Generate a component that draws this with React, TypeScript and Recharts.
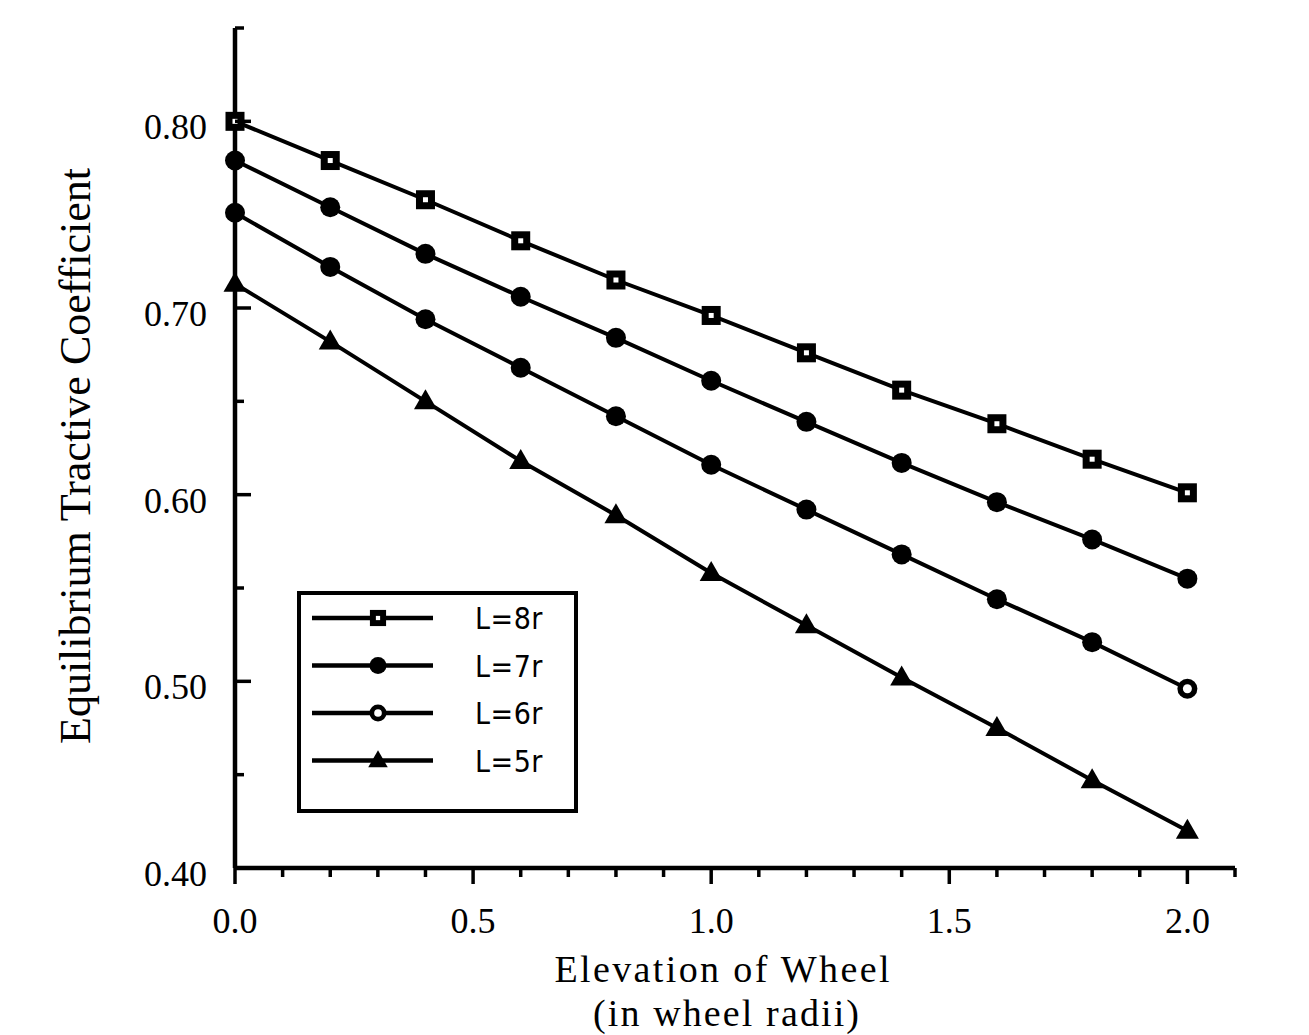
import React from "react";
import { LineChart, Line, XAxis, YAxis, Legend, Label } from "recharts";
import type { JSX } from "react";

// elevation of wheel, in wheel radii
const elevation = [0, 0.2, 0.4, 0.6, 0.8, 1.0, 1.2, 1.4, 1.6, 1.8, 2.0];

// equilibrium tractive coefficient, one list per wheelbase
const l8r = [0.8, 0.779, 0.758, 0.736, 0.715, 0.696, 0.676, 0.656, 0.638, 0.619, 0.601];
const l7r = [0.779, 0.754, 0.729, 0.706, 0.684, 0.661, 0.639, 0.617, 0.596, 0.576, 0.555];
const l6r = [0.751, 0.722, 0.694, 0.668, 0.642, 0.616, 0.592, 0.568, 0.544, 0.521, 0.496];
const l5r = [0.713, 0.682, 0.65, 0.618, 0.589, 0.558, 0.53, 0.502, 0.475, 0.447, 0.42];

const seriesNames = ["L=8r", "L=7r", "L=6r", "L=5r"];

const xTicks = [0, 0.1, 0.2, 0.3, 0.4, 0.5, 0.6, 0.7, 0.8, 0.9, 1.0, 1.1, 1.2, 1.3, 1.4, 1.5, 1.6, 1.7, 1.8, 1.9, 2.0, 2.1];
const xLabels = ["0.0", "0.5", "1.0", "1.5", "2.0"];
const yTicks = [0.4, 0.45, 0.5, 0.55, 0.6, 0.65, 0.7, 0.75, 0.8, 0.85];
const yLabels = ["0.40", "0.50", "0.60", "0.70", "0.80"];

const rows = elevation.map((x, i) => ({
  x,
  l8: l8r[i],
  l7: l7r[i],
  l6: l6r[i],
  l5: l5r[i],
}));

const SERIF = "'Liberation Serif', 'Times New Roman', serif";
const NARROW = "'Liberation Sans Narrow', 'DejaVu Sans Condensed', sans-serif";

type Shape = "square" | "disc" | "ring" | "triangle";

function Marker({ cx, cy, shape, s = 1 }: { cx: number; cy: number; shape: Shape; s?: number }) {
  if (shape === "square") {
    return (
      <g>
        <rect x={cx - 9.5 * s} y={cy - 9.5 * s} width={19 * s} height={19 * s} fill="#000" />
        <rect x={cx - 2.5 * s} y={cy - 2.5 * s} width={5 * s} height={5 * s} fill="#fff" />
      </g>
    );
  }
  if (shape === "triangle") {
    return (
      <path
        d={`M${cx},${cy - 12 * s} L${cx + 11.5 * s},${cy + 8 * s} L${cx - 11.5 * s},${cy + 8 * s} Z`}
        fill="#000"
      />
    );
  }
  return (
    <g>
      <circle cx={cx} cy={cy} r={10 * s} fill="#000" />
      {shape === "ring" && <circle cx={cx} cy={cy} r={4.5 * s} fill="#fff" />}
    </g>
  );
}

const makeDot = (shape: Shape, last?: Shape) => (p: any) => (
  <Marker
    key={p.index}
    cx={p.cx}
    cy={p.cy}
    // the printed L=6r markers read as solid except the final one
    shape={last && p.index === elevation.length - 1 ? last : shape}
  />
);

const legendShapes: Shape[] = ["square", "disc", "ring", "triangle"];

function LegendBox() {
  return (
    <svg width={281} height={222}>
      <rect x={2} y={2} width={277} height={218} fill="#fff" stroke="#000" strokeWidth={4} />
      {seriesNames.map((name, i) => {
        const y = 27 + i * 47.5;
        return (
          <g key={name}>
            <line x1={15} x2={136} y1={y} y2={y} stroke="#000" strokeWidth={4.5} />
            <Marker cx={81} cy={y} shape={legendShapes[i]} s={0.85} />
            <text
              x={178}
              y={y + 11}
              fontFamily={NARROW}
              fontSize={30}
              fontWeight={500}
              letterSpacing={0.5}
              fill="#000"
            >
              {name}
            </text>
          </g>
        );
      })}
    </svg>
  );
}

function XTick(props: any) {
  const { x, y, payload } = props;
  const v = payload.value as number;
  const idx = Math.round(v * 2);
  const major = Math.abs(v * 2 - idx) < 1e-6;
  return (
    <g>
      <line x1={x} x2={x} y1={y} y2={y + (major ? 16 : 9)} stroke="#000" strokeWidth={3.5} />
      {major && xLabels[idx] && (
        <text x={x} y={y + 65} textAnchor="middle" fontFamily={SERIF} fontSize={36} fill="#000">
          {xLabels[idx]}
        </text>
      )}
    </g>
  );
}

function YTick(props: any) {
  const { x, y, payload } = props;
  const v = payload.value as number;
  const idx = Math.round((v - 0.4) * 10);
  const major = Math.abs((v - 0.4) * 10 - idx) < 1e-6 && idx < yLabels.length;
  return (
    <g>
      <line x1={x} x2={x + (major ? 16 : 9)} y1={y} y2={y} stroke="#000" strokeWidth={3.5} />
      {major && (
        <text x={x - 28} y={y + 18} textAnchor="end" fontFamily={SERIF} fontSize={36} fill="#000">
          {yLabels[idx]}
        </text>
      )}
    </g>
  );
}

export default function App(): JSX.Element {
  return (
    <div style={{ position: "absolute", left: 0, top: 0, width: 1309, height: 1035, background: "#fff" }}>
      <LineChart width={1309} height={1035} data={rows} margin={{ top: 28, right: 74, left: 0, bottom: 0 }}>
        <XAxis
          dataKey="x"
          type="number"
          domain={[0, 2.1]}
          ticks={xTicks}
          interval={0}
          height={167}
          tickSize={0}
          tickMargin={0}
          tickLine={false}
          tick={<XTick />}
          axisLine={{ stroke: "#000", strokeWidth: 4.5 }}
        >
          <Label
            content={(p: any) => {
              const vb = p.viewBox;
              return (
                <g fontFamily={SERIF} fontSize={38} fill="#000">
                  <text x={722} y={vb.y + 114} textAnchor="middle" textLength={335}>
                    Elevation of Wheel
                  </text>
                  <text x={726} y={vb.y + 158} textAnchor="middle" textLength={266}>
                    (in wheel radii)
                  </text>
                </g>
              );
            }}
          />
        </XAxis>
        <YAxis
          type="number"
          domain={[0.4, 0.85]}
          ticks={yTicks}
          interval={0}
          width={235}
          tickSize={0}
          tickMargin={0}
          tickLine={false}
          tick={<YTick />}
          axisLine={{ stroke: "#000", strokeWidth: 4.5 }}
        >
          <Label
            content={() => (
              <text
                x={90}
                y={456}
                textAnchor="middle"
                fontFamily={SERIF}
                fontSize={44}
                fill="#000"
                transform="rotate(-90, 90, 456)"
              >
                Equilibrium Tractive Coefficient
              </text>
            )}
          />
        </YAxis>
        <Legend
          layout="vertical"
          align="center"
          verticalAlign="middle"
          content={() => <LegendBox />}
          wrapperStyle={{ left: 297, top: 591, width: 281, height: 222 }}
        />
        <Line dataKey="l8" name={seriesNames[0]} stroke="#000" strokeWidth={4} dot={makeDot("square")} isAnimationActive={false} />
        <Line dataKey="l7" name={seriesNames[1]} stroke="#000" strokeWidth={4} dot={makeDot("disc")} isAnimationActive={false} />
        <Line dataKey="l6" name={seriesNames[2]} stroke="#000" strokeWidth={4} dot={makeDot("disc", "ring")} isAnimationActive={false} />
        <Line dataKey="l5" name={seriesNames[3]} stroke="#000" strokeWidth={4} dot={makeDot("triangle")} isAnimationActive={false} />
      </LineChart>
    </div>
  );
}
